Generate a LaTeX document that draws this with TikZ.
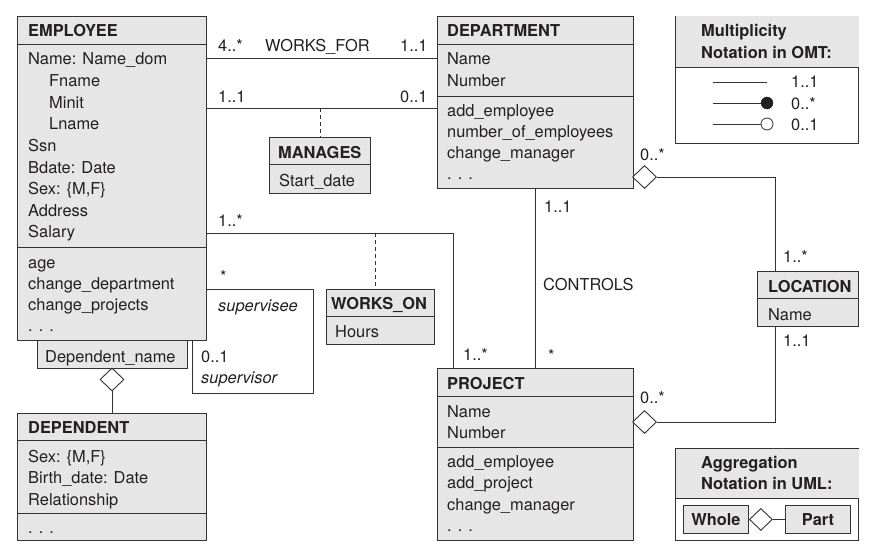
\documentclass[tikz,border=0pt]{standalone}
\usepackage{fontspec}
\setmainfont{TeX Gyre Heros}
\usetikzlibrary{shapes.geometric,positioning}

\definecolor{boxgray}{HTML}{E6E6E6}
\definecolor{linegray}{HTML}{333333}
\definecolor{inkc}{HTML}{231F20}
\newcommand\dfont{\fontsize{16.4}{20}\selectfont}

\tikzset{
  cls/.style={draw=linegray, fill=boxgray, line width=0.9pt, anchor=north west, inner sep=0pt},
  txt/.style={anchor=base west, inner sep=0pt, text=inkc, font=\dfont},
  hdr/.style={txt, font=\dfont\bfseries},
  role/.style={txt, font=\dfont\itshape},
  agg/.style={diamond, draw=linegray, fill=white, line width=0.9pt, inner sep=0pt,
              minimum width=24pt, minimum height=23pt},
  link/.style={draw=linegray, line width=0.9pt},
}

\begin{document}
\begin{tikzpicture}[x=1pt,y=-1pt]
  \useasboundingbox (0,0) rectangle (875,551);

  % EMPLOYEE
  \node[cls, minimum width=189pt, minimum height=324pt] (emp) at (17,16) {};
  \draw[link] (emp.west |- 0,44) -- (emp.east |- 0,44);
  \draw[link] (emp.west |- 0,247) -- (emp.east |- 0,247);
  \node[hdr] at (28,37) {EMPLOYEE};
  \foreach \t [count=\i from 0] in {Name: Name\_dom, \hspace*{21pt}Fname,
      \hspace*{21pt}Minit, \hspace*{21pt}Lname, Ssn, Bdate: Date, {Sex: \{M,F\}},
      Address, Salary}
    \node[txt] at (28,65+21.6*\i) {\t};
  \foreach \t [count=\i from 0] in {age, change\_department, change\_projects, . . .}
    \node[txt] at (28,268+21.3*\i) {\t};

  % qualifier and DEPENDENT
  \node[cls, minimum width=150pt, minimum height=28pt] (dname) at (37,340) {};
  \node[txt] at (45,362) {Dependent\_name};
  \node[agg] (depdia) at (112,379.5) {};
  \node[cls, minimum width=189pt, minimum height=127pt] (dep) at (17,413) {};
  \draw[link] (emp.west |- 0,440) -- (dep.east |- 0,440);
  \draw[link] (dep.west |- 0,513) -- (dep.east |- 0,513);
  \node[hdr] at (28,433) {DEPENDENT};
  \foreach \t [count=\i from 0] in {{Sex: \{M,F\}}, Birth\_date: Date, Relationship}
    \node[txt] at (28,462+21.6*\i) {\t};
  \node[txt] at (28,533) {. . .};
  \draw[link] (depdia.south) -- (dep.north -| depdia.south);

  % DEPARTMENT
  \node[cls, minimum width=196pt, minimum height=172pt] (dept) at (437,16) {};
  \draw[link] (dept.west |- 0,44) -- (dept.east |- 0,44);
  \draw[link] (dept.west |- 0,96) -- (dept.east |- 0,96);
  \node[hdr] at (447,37) {DEPARTMENT};
  \foreach \t [count=\i from 0] in {Name, Number}
    \node[txt] at (447,65+21.6*\i) {\t};
  \foreach \t [count=\i from 0] in {add\_employee, number\_of\_employees,
      change\_manager, . . .}
    \node[txt] at (447,116+21.3*\i) {\t};

  % PROJECT
  \node[cls, minimum width=196pt, minimum height=172pt] (proj) at (437,368) {};
  \draw[link] (proj.west |- 0,396) -- (proj.east |- 0,396);
  \draw[link] (proj.west |- 0,447) -- (proj.east |- 0,447);
  \node[hdr] at (447,389) {PROJECT};
  \foreach \t [count=\i from 0] in {Name, Number}
    \node[txt] at (447,417+21.6*\i) {\t};
  \foreach \t [count=\i from 0] in {add\_employee, add\_project,
      change\_manager, . . .}
    \node[txt] at (447,467+21.6*\i) {\t};

  % LOCATION
  \node[cls, minimum width=101pt, minimum height=55pt] (loc) at (757,271) {};
  \draw[link] (loc.west |- 0,298) -- (loc.east |- 0,298);
  \node[hdr] at (768,292) {LOCATION};
  \node[txt] at (768,320) {Name};

  % association classes
  \node[cls, minimum width=101pt, minimum height=56pt] (mgr) at (269,137) {};
  \draw[link] (mgr.west |- 0,164) -- (mgr.east |- 0,164);
  \node[hdr] at (278,158) {MANAGES};
  \node[txt] at (279,186) {Start\_date};
  \node[cls, minimum width=108pt, minimum height=55pt] (won) at (326,289) {};
  \draw[link] (won.west |- 0,316) -- (won.east |- 0,316);
  \node[hdr] at (331,309) {WORKS\_ON};
  \node[txt] at (335,337) {Hours};

  % WORKS_FOR and MANAGES
  \draw[link] (emp.east |- 0,58) -- (dept.west |- 0,58);
  \node[txt] at (218,52) {4..*};
  \node[txt] at (265,52) {WORKS\_FOR};
  \node[txt] at (400,52) {1..1};
  \coordinate (mline) at (320,108);
  \draw[link] (emp.east |- mline) -- (dept.west |- mline);
  \draw[link, dash pattern=on 4pt off 3pt] (mline) -- (mgr.north -| mline);
  \node[txt] at (218,102) {1..1};
  \node[txt] at (400,102) {0..1};

  % WORKS_ON
  \coordinate (wline) at (375,233);
  \coordinate (wcorner) at (453,233);
  \draw[link] (emp.east |- wline) -- (wcorner) -- (proj.north -| wcorner);
  \draw[link, dash pattern=on 4pt off 3pt] (wline) -- (won.north -| wline);
  \node[txt] at (218,226) {1..*};
  \node[txt] at (463,360) {1..*};

  % supervision
  \coordinate (sv1) at (313,289);
  \coordinate (sv2) at (192,393);
  \draw[link] (emp.east |- sv1) -| (sv1 |- sv2) -- (sv2) -- (emp.south -| sv2);
  \node[txt] at (220,282) {*};
  \node[role] at (218,311) {supervisee};
  \node[txt] at (201,362) {0..1};
  \node[role] at (201,383) {supervisor};

  % CONTROLS
  \draw[link] (dept.south) -- (proj.north -| dept.south);
  \node[txt] at (544,212) {1..1};
  \node[txt] at (543,290) {CONTROLS};
  \node[txt] at (548,361) {*};

  % locations
  \coordinate (lx) at (775,0);
  \node[agg] (deptdia) at (644.5,177) {};
  \node[agg] (projdia) at (644.5,422) {};
  \draw[link] (deptdia.east) -| (loc.north -| lx);
  \draw[link] (loc.south -| lx) |- (projdia.east);
  \node[txt] at (640,160) {0..*};
  \node[txt] at (783,262) {1..*};
  \node[txt] at (783,346) {1..1};
  \node[txt] at (640,403) {0..*};

  % Multiplicity legend
  \node[cls, fill=white, minimum width=183pt, minimum height=127pt] (omt) at (675,16) {};
  \fill[boxgray] ([shift={(0.5pt,-0.5pt)}]omt.north west) rectangle (omt.east |- 0,67);
  \draw[link] (omt.west |- 0,67) -- (omt.east |- 0,67);
  \node[hdr] at (701,37) {Multiplicity};
  \node[hdr] at (701,59) {Notation in OMT:};
  \draw[linegray, line width=0.8pt] (713,82) coordinate (m1) -- (767,82);
  \node[circle, fill=inkc, draw=inkc, inner sep=0pt, minimum size=12pt] (m2) at (767,103) {};
  \node[circle, fill=white, draw=linegray, line width=0.8pt, inner sep=0pt, minimum size=12pt] (m3) at (767,124) {};
  \draw[linegray, line width=0.8pt] (m2.west) -- (m1 |- m2);
  \draw[linegray, line width=0.8pt] (m3.west) -- (m1 |- m3);
  \foreach \t/\y in {1..1/88, 0..*/109, 0..1/130}
    \node[txt] at (791,\y) {\t};

  % Aggregation legend
  \node[cls, fill=white, minimum width=183pt, minimum height=92pt] (uml) at (675,448) {};
  \fill[boxgray] ([shift={(0.5pt,-0.5pt)}]uml.north west) rectangle (uml.east |- 0,498);
  \draw[link] (uml.west |- 0,498) -- (uml.east |- 0,498);
  \node[hdr] at (701,468) {Aggregation};
  \node[hdr] at (701,489) {Notation in UML:};
  \node[cls, minimum width=65pt, minimum height=28pt, font=\dfont\bfseries, text=inkc] (whole) at (683,505) {Whole};
  \node[cls, minimum width=65pt, minimum height=28pt, font=\dfont\bfseries, text=inkc] (part) at (785,505) {Part};
  \node[agg, minimum width=23pt, minimum height=22pt, anchor=west] (umldia) at (whole.east) {};
  \draw[link] (umldia.east) -- (part.west);
\end{tikzpicture}
\end{document}
